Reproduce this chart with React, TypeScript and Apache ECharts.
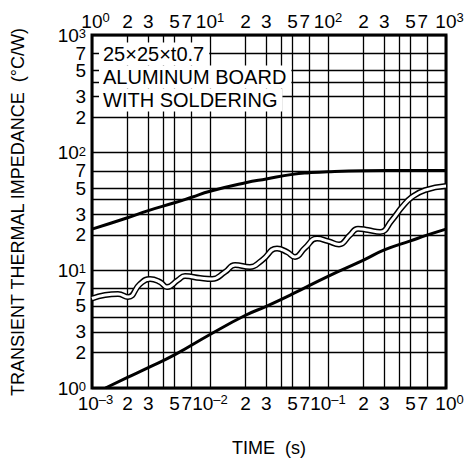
import React, { useEffect, useRef } from "react";
import * as echarts from "echarts";

// Tick labels (log axes)
const bottomTickLabels = [0.001, 0.002, 0.003, 0.005, 0.01, 0.02, 0.03, 0.05, 0.1, 0.2, 0.3, 0.5, 1];
const bottomSevenLabels = [0.007, 0.07, 0.7];
const topTickLabels = [1, 2, 3, 5, 10, 20, 30, 50, 100, 200, 300, 500, 1000];
const topSevenLabels = [7, 70, 700];
const yTickLabels = [1, 2, 3, 5, 10, 20, 30, 50, 100, 200, 300, 500, 1000];
const ySevenLabels = [7, 70, 700];
// Grid lines
const xGridLines = [0.001, 0.002, 0.003, 0.004, 0.005, 0.007, 0.01, 0.02, 0.03, 0.04, 0.05, 0.07, 0.1, 0.2, 0.3, 0.4, 0.5, 0.7, 1];
const yGridLines = [1, 2, 3, 4, 5, 7, 10, 20, 30, 40, 50, 70, 100, 200, 300, 400, 500, 700, 1000];

// Upper curve
const upperTime = [0.001, 0.002, 0.003, 0.005, 0.007, 0.01, 0.02, 0.03, 0.05, 0.07, 0.1, 0.2, 0.5, 1];
const upperZth = [22.4, 28, 32.2, 37.5, 41.8, 47, 55.5, 59.8, 65.4, 67.6, 69, 70.2, 70.5, 70.5];

// Wavy curve
const waveTime = [0.001, 0.00129, 0.00166, 0.00202, 0.00255, 0.0031, 0.00377, 0.00432, 0.00536, 0.00614, 0.00823, 0.0104, 0.0134, 0.0163, 0.0218, 0.0276, 0.037, 0.045, 0.0525, 0.0638, 0.0807, 0.1, 0.124, 0.1535, 0.1795, 0.218, 0.276, 0.348, 0.424, 0.515, 0.664, 1.0];
const waveZth = [5.76, 6.17, 6.29, 5.93, 7.65, 8.44, 7.95, 7.21, 8.27, 8.94, 8.6, 8.44, 9.67, 11.1, 10.67, 12.2, 15.3, 14.3, 13.0, 15.5, 18.6, 17.7, 16.6, 19.95, 22.6, 22.0, 21.2, 26.7, 34.5, 42.0, 48.1, 52.0];

// Lower curve
const lowerTime = [0.0013, 0.002, 0.003, 0.005, 0.01, 0.02, 0.03, 0.05, 0.1, 0.2, 0.3, 0.5, 0.7, 1];
const lowerZth = [1.0, 1.23, 1.49, 1.91, 2.85, 4.15, 4.95, 6.3, 8.9, 12.2, 14.9, 17.8, 20, 22.4];

const noteLines = ["25×25×t0.7", "ALUMINUM BOARD", "WITH SOLDERING"];
const yTitle = "TRANSIENT THERMAL IMPEDANCE  (°C/W)";
const xTitle = "TIME  (s)";

const FONT = '"Liberation Sans", Arial, Helvetica, sans-serif';

const split = (v: number) => {
  const e = Math.floor(Math.log10(v) + 1e-9);
  const m = Math.round(v / Math.pow(10, e));
  return { e, m };
};
const sup = (e: number) => (e < 0 ? "–" + -e : String(e));
const isEdge = (v: number) => Math.abs(v - 0.001) < 1e-9 || Math.abs(v - 1) < 1e-9 || Math.abs(v - 1000) < 1e-6;

const fmtX = (v: number) => {
  const { e, m } = split(v);
  if (m === 1) return isEdge(v) ? `{e|10}{s|${sup(e)}}` : `{b|10}{s|${sup(e)}}`;
  if (m === 7) return `{r|7}`;
  return `{b|${m}}`;
};
const fmtY = (v: number) => {
  const { e, m } = split(v);
  if (m === 1) return `{b|10}{s|${sup(e)}}`;
  return `{b|${m}}`;
};

const base = { fontSize: 19, lineHeight: 20, fontFamily: FONT, color: "#000" };
const richX = {
  b: { ...base },
  e: { ...base, padding: [0, 0, 0, 7] },
  r: { ...base, padding: [0, 10, 0, 0] },
  s: { fontSize: 13, lineHeight: 6, verticalAlign: "top", fontFamily: FONT, color: "#000" },
};
const richY = {
  b: { ...base, lineHeight: 16 },
  s: { fontSize: 13, lineHeight: 4, verticalAlign: "top", fontFamily: FONT, color: "#000" },
};

const zip = (a: number[], b: number[]) => a.map((x, i) => [x, b[i]]);

export default function App() {
  const ref = useRef<HTMLDivElement>(null);
  useEffect(() => {
    if (!ref.current) return;
    const chart = echarts.init(ref.current, undefined, { renderer: "svg" });
    const gridLine = { show: true, lineStyle: { color: "#000", width: 1.3 } };
    const labelAxis = (min: number, max: number, position: string, values: number[], margin: number, fmt: any, rich: any) => ({
      type: "log", min, max, logBase: 10, position,
      axisLine: { show: false },
      axisTick: { show: false },
      splitLine: { show: false },
      axisLabel: { customValues: values, formatter: fmt, rich, margin, showMinLabel: true, showMaxLabel: true, hideOverlap: false },
    });
    chart.setOption({
      animation: false,
      backgroundColor: "#fff",
      grid: { left: 92, top: 35, width: 354, height: 353, show: true, borderColor: "#000", borderWidth: 3, backgroundColor: "transparent" },
      xAxis: [
        {
          type: "log", min: 0.001, max: 1, logBase: 10, position: "bottom",
          axisLine: { show: false },
          axisTick: { show: false, customValues: xGridLines },
          splitLine: gridLine,
          minorSplitLine: { show: false },
          axisLabel: { customValues: bottomTickLabels, formatter: fmtX, rich: richX, margin: 5, showMinLabel: true, showMaxLabel: true, hideOverlap: false },
        },
        labelAxis(1, 1000, "top", topTickLabels, 4, fmtX, richX),
        labelAxis(0.001, 1, "bottom", bottomSevenLabels, 5, fmtX, richX),
        labelAxis(1, 1000, "top", topSevenLabels, 4, fmtX, richX),
      ],
      yAxis: [
        {
          type: "log", min: 1, max: 1000, logBase: 10, position: "left",
          axisLine: { show: false },
          axisTick: { show: false, customValues: yGridLines },
          splitLine: gridLine,
          axisLabel: { customValues: yTickLabels, formatter: fmtY, rich: richY, margin: 6, showMinLabel: true, showMaxLabel: true, hideOverlap: false },
        },
        labelAxis(1, 1000, "left", ySevenLabels, 6, fmtY, richY),
      ],
      series: [
        {
          type: "line", data: zip(upperTime, upperZth), smooth: true, symbol: "none",
          lineStyle: { color: "#000", width: 3 }, z: 3,
        },
        {
          type: "line", data: zip(lowerTime, lowerZth), smooth: true, symbol: "none",
          lineStyle: { color: "#000", width: 3 }, z: 3,
        },
        {
          type: "line", data: zip(waveTime, waveZth), smooth: 0.5, symbol: "none",
          lineStyle: { color: "#000", width: 6 }, z: 4,
        },
        {
          type: "line", data: zip(waveTime, waveZth), smooth: 0.5, symbol: "none",
          lineStyle: { color: "#fff", width: 3 }, z: 5,
        },
      ],
      graphic: [
        ...noteLines.map((t, i) => ({
          type: "text", x: 99, y: 54 + i * 23, z: 100,
          style: {
            text: t, font: `20px ${FONT}`, fill: "#000", backgroundColor: "#fff",
            padding: [0, 5, 0, 4], lineHeight: 23, align: "left", verticalAlign: "middle",
          },
        })),
        {
          type: "text", x: 18, y: 212, rotation: Math.PI / 2, z: 100,
          style: { text: yTitle, font: `18px ${FONT}`, fill: "#000", align: "center", verticalAlign: "middle" },
        },
        {
          type: "text", x: 269, y: 448, z: 100,
          style: { text: xTitle, font: `18px ${FONT}`, fill: "#000", align: "center", verticalAlign: "middle" },
        },
      ],
    });
    return () => chart.dispose();
  }, []);
  return <div ref={ref} style={{ position: "absolute", left: 0, top: 0, width: 468, height: 461 }} />;
}
